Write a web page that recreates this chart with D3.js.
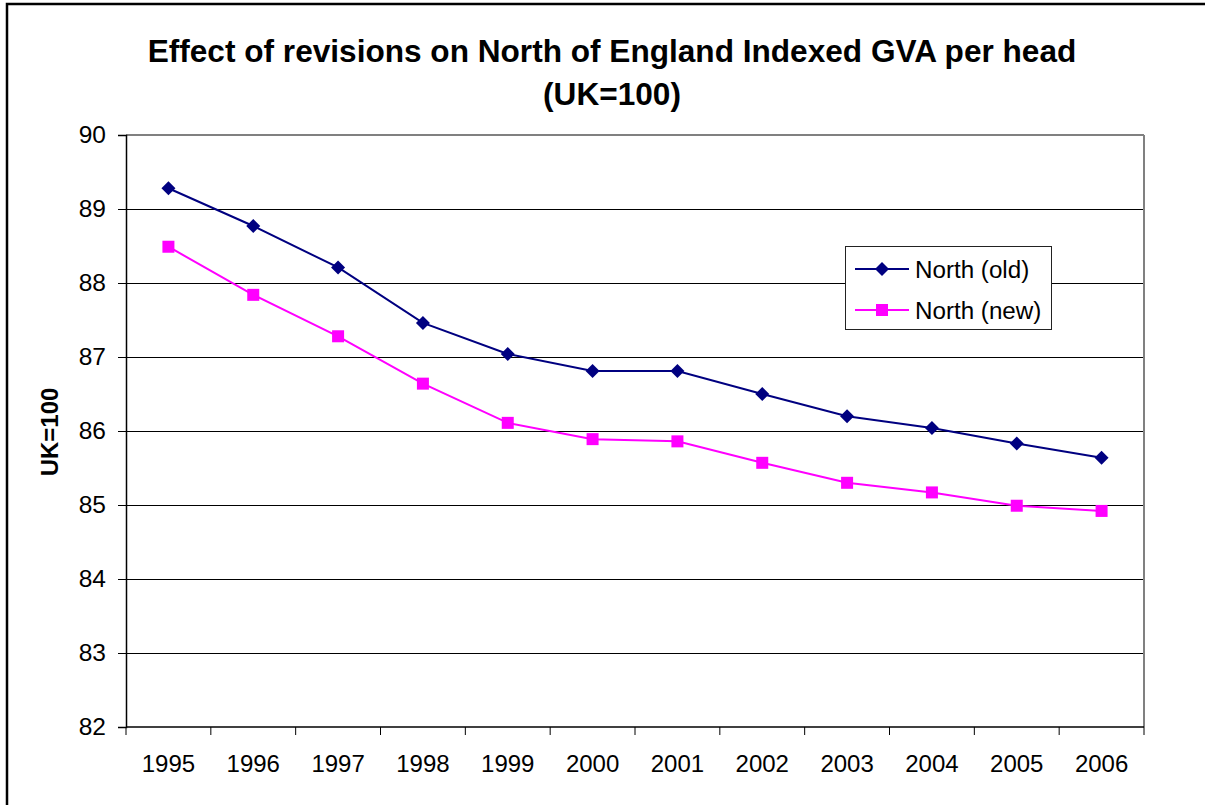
<!DOCTYPE html>
<html>
<head>
<meta charset="utf-8">
<script src="https://cdn.jsdelivr.net/npm/d3@7"></script>
<style>
  html, body { margin: 0; padding: 0; background: #fff; }
  svg { display: block; font-family: "Liberation Sans", Arial, sans-serif; }
</style>
</head>
<body>
<svg id="chart" width="1205" height="805"></svg>
<script>
const years = ["1995","1996","1997","1998","1999","2000","2001","2002","2003","2004","2005","2006"];
const northOld = [89.28, 88.77, 88.21, 87.46, 87.04, 86.81, 86.81, 86.50, 86.20, 86.04, 85.83, 85.64];
const northNew = [88.49, 87.84, 87.28, 86.64, 86.11, 85.89, 85.86, 85.57, 85.30, 85.17, 84.99, 84.92];
const yTicks = [82, 83, 84, 85, 86, 87, 88, 89, 90];
const seriesNames = ["North (old)", "North (new)"];
const titleLines = ["Effect of revisions on North of England Indexed GVA per head", "(UK=100)"];
const yTitle = "UK=100";

const svg = d3.select("#chart");
const W = 1205, H = 805;
const plot = { left: 126, right: 1144, top: 135, bottom: 727 };

// outer border
svg.append("rect").attr("x", 7).attr("y", 4).attr("width", W + 10).attr("height", H + 10)
  .attr("fill", "#fff").attr("stroke", "#000").attr("stroke-width", 2.5);

const x = d3.scaleBand().domain(years).range([plot.left, plot.right]).padding(0);
const y = d3.scaleLinear().domain([82, 90]).range([plot.bottom, plot.top]);

// gridlines
svg.append("g").selectAll("line").data(yTicks.filter(t => t !== 82 && t !== 90)).join("line")
  .attr("x1", plot.left).attr("x2", plot.right)
  .attr("y1", d => y(d)).attr("y2", d => y(d))
  .attr("stroke", "#000").attr("stroke-width", 1).attr("shape-rendering", "crispEdges");

// plot area border (top & right in gray)
svg.append("line").attr("x1", plot.left).attr("x2", plot.right).attr("y1", y(90)).attr("y2", y(90))
  .attr("stroke", "#808080").attr("stroke-width", 2).attr("shape-rendering", "crispEdges");
svg.append("line").attr("x1", plot.right).attr("x2", plot.right).attr("y1", plot.top).attr("y2", plot.bottom)
  .attr("stroke", "#808080").attr("stroke-width", 2).attr("shape-rendering", "crispEdges");

// y axis
const yAxis = d3.axisLeft(y).tickValues(yTicks).tickSize(8).tickPadding(12).tickFormat(d3.format("d"));
const gy = svg.append("g").attr("transform", `translate(${plot.left},0)`).call(yAxis);
gy.select(".domain").attr("stroke", "#000").attr("stroke-width", 1.5);
gy.selectAll(".tick line").attr("stroke", "#000").attr("stroke-width", 1);
gy.selectAll(".tick text").attr("font-size", 24.5).attr("fill", "#000")
  .attr("font-family", "'Liberation Sans', Arial, sans-serif");

// x axis with ticks at band boundaries
const gx = svg.append("g").attr("transform", `translate(0,${plot.bottom})`);
gx.append("line").attr("x1", plot.left).attr("x2", plot.right).attr("y1", 0).attr("y2", 0)
  .attr("stroke", "#000").attr("stroke-width", 1.5);
const boundaries = years.map(d => x(d)).concat([x(years[years.length - 1]) + x.bandwidth()]);
gx.selectAll("line.tk").data(boundaries).join("line").attr("class", "tk")
  .attr("x1", d => d).attr("x2", d => d).attr("y1", 0).attr("y2", 8)
  .attr("stroke", "#000").attr("stroke-width", 1);
gx.selectAll("text").data(years).join("text")
  .attr("x", d => x(d) + x.bandwidth() / 2).attr("y", 45)
  .attr("text-anchor", "middle").attr("font-size", 24).attr("fill", "#000")
  .text(d => d);

// lines
const line = d3.line().x((d, i) => x(years[i]) + x.bandwidth() / 2).y(d => y(d));
svg.append("path").datum(northOld).attr("d", line).attr("fill", "none")
  .attr("stroke", "#000080").attr("stroke-width", 2);
svg.append("path").datum(northNew).attr("d", line).attr("fill", "none")
  .attr("stroke", "#FF00FF").attr("stroke-width", 2);

// markers
const diamond = s => `M0,${-s}L${s},0L0,${s}L${-s},0Z`;
svg.append("g").selectAll("path").data(northOld).join("path")
  .attr("transform", (d, i) => `translate(${x(years[i]) + x.bandwidth() / 2},${y(d)})`)
  .attr("d", diamond(7)).attr("fill", "#000080");
svg.append("g").selectAll("rect").data(northNew).join("rect")
  .attr("x", (d, i) => x(years[i]) + x.bandwidth() / 2 - 6)
  .attr("y", d => y(d) - 6).attr("width", 12).attr("height", 12)
  .attr("fill", "#FF00FF");

// legend
const lg = svg.append("g");
lg.append("rect").attr("x", 845.5).attr("y", 246.5).attr("width", 206).attr("height", 83)
  .attr("fill", "#fff").attr("stroke", "#222").attr("stroke-width", 1);
const legendY = [269, 310];
const colors = ["#000080", "#FF00FF"];
seriesNames.forEach((name, i) => {
  lg.append("line").attr("x1", 855).attr("x2", 909).attr("y1", legendY[i]).attr("y2", legendY[i])
    .attr("stroke", colors[i]).attr("stroke-width", 2);
  if (i === 0) {
    lg.append("path").attr("transform", `translate(882,${legendY[i]})`).attr("d", diamond(7)).attr("fill", colors[i]);
  } else {
    lg.append("rect").attr("x", 876).attr("y", legendY[i] - 6).attr("width", 12).attr("height", 12).attr("fill", colors[i]);
  }
  lg.append("text").attr("x", 915).attr("y", legendY[i] + 9).attr("font-size", 24.2).attr("fill", "#000").text(name);
});

// title
const title = svg.append("text").attr("text-anchor", "middle").attr("font-weight", "bold")
  .attr("font-size", 31.6).attr("fill", "#000");
titleLines.forEach((t, i) => {
  title.append("tspan").attr("x", 612).attr("y", 62 + i * 43).text(t);
});

// y axis title
svg.append("text").attr("transform", `translate(58,432) rotate(-90)`)
  .attr("text-anchor", "middle").attr("font-weight", "bold").attr("font-size", 24)
  .attr("fill", "#000").text(yTitle);
</script>
</body>
</html>
